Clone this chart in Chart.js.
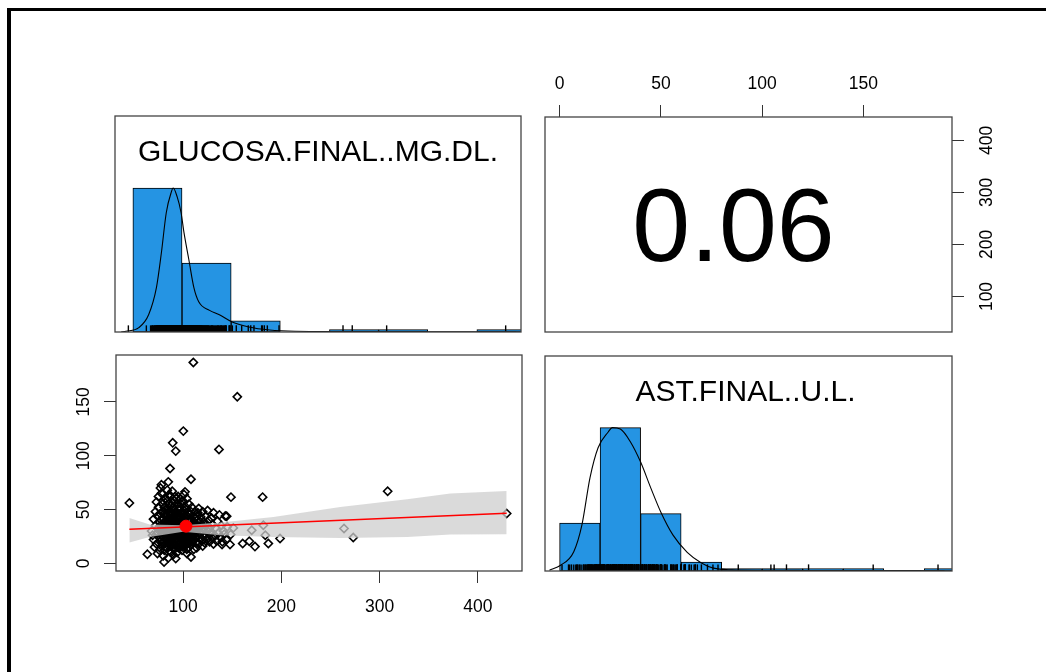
<!DOCTYPE html>
<html>
<head>
<meta charset="utf-8">
<script src="https://cdn.jsdelivr.net/npm/chart.js@4.4.1/dist/chart.umd.min.js"></script>
<style>
  html, body { margin: 0; padding: 0; background: #fff; overflow: hidden; }
  #marco { position: absolute; left: 7px; top: 8px; width: 1200px; height: 800px;
           border-top: 3px solid #000; border-left: 4px solid #000; }
  canvas { position: absolute; left: 0; top: 0; }
</style>
</head>
<body>
<div id="marco"></div>
<canvas id="histGlucosa" width="1046" height="672"></canvas>
<canvas id="correlacion" width="1046" height="672"></canvas>
<canvas id="dispersion" width="1046" height="672"></canvas>
<canvas id="histAst" width="1046" height="672"></canvas>
<script>
// pares (glucosa, AST) de cada paciente
const glucosa = [
  68, 70, 70, 71, 72, 72, 69,
  73, 74, 74, 75, 75, 75, 76, 76, 76, 77, 77, 77, 74, 73,
  78, 78, 78, 79, 79, 79, 80, 80, 80, 81, 81, 81, 82, 82, 82, 78, 80, 82,
  83, 83, 83, 84, 84, 84, 85, 85, 85, 86, 86, 86, 87, 87, 87, 84, 85, 86, 87, 83,
  88, 88, 88, 89, 89, 89, 90, 90, 90, 91, 91, 91, 92, 92, 92, 88, 90, 91, 92, 89,
  93, 93, 93, 94, 94, 94, 95, 95, 95, 96, 96, 96, 97, 97, 97, 94, 95, 96, 97, 93,
  98, 98, 98, 99, 99, 99, 100, 100, 100, 101, 101, 101, 102, 102, 102, 98, 99, 100, 101, 102,
  103, 103, 103, 104, 104, 104, 105, 105, 105, 106, 106, 106, 107, 107, 107, 104, 105,
  108, 108, 108, 109, 109, 110, 110, 110, 111, 111, 111, 112, 112, 109, 112,
  113, 113, 114, 114, 115, 115, 116, 116, 117, 117, 114, 116,
  118, 118, 119, 119, 120, 120, 121, 121, 122, 122, 120,
  123, 123, 124, 124, 125, 125, 126, 126, 127, 127,
  128, 129, 130, 130, 131, 132, 133, 134, 135, 131,
  136, 137, 138, 139, 140, 141, 142, 143, 144, 145,
  76, 77, 78, 78, 79, 79, 80, 80, 80, 81, 81, 81, 82, 82, 83, 83, 83, 83, 84, 84,
  84, 85, 85, 85, 86, 86, 86, 86, 87, 87, 87, 87, 88, 88, 88, 88, 89, 89, 89, 89,
  90, 90, 90, 90, 91, 91, 91, 91, 92, 92, 92, 92, 93, 93, 93, 93, 94, 94, 94, 94,
  95, 95, 95, 95, 96, 96, 96, 96, 97, 97, 97, 97, 98, 98, 98, 99, 99, 99, 99, 100,
  100, 100, 100, 101, 101, 101, 102, 102, 102, 103, 103, 103, 104, 104, 104, 105, 105, 105, 106, 106,
  106, 107, 107, 108, 108, 108, 109, 109, 110, 110, 111, 111, 112, 113, 113, 114, 115, 116, 117, 118,
  45.4, 110.5, 155.2, 100.3, 89.5, 92.6, 136.6, 86.8, 85, 108.1, 102, 148.8, 181, 308.2, 429.3,
  263.8, 273.2, 198.7, 186.8, 173.2, 167.4, 160.7, 147.8, 139.7, 144.4, 181.7, 169.9, 183.7,
  151.2, 148.5, 63.7, 92.6, 108.1, 80.7, 103.8, 113.9
];
const ast = [
  30, 22, 41, 15, 35, 48, 26,
  18, 28, 44, 33, 52, 62, 12, 24, 38, 70, 20, 46, 9, 57,
  30, 65, 16, 42, 26, 55, 34, 20, 48, 12, 38, 29, 60, 22, 44, 73, 7, 31,
  27, 50, 15, 36, 22, 58, 31, 42, 18, 25, 47, 64, 33, 20, 11, 68, 5, 37, 53, 40,
  28, 45, 16, 35, 24, 56, 30, 41, 19, 26, 50, 13, 34, 22, 62, 38, 8, 44, 29, 67,
  27, 48, 17, 32, 21, 55, 36, 25, 43, 30, 14, 52, 24, 38, 60, 10, 29, 40, 33, 37,
  28, 46, 19, 34, 23, 57, 31, 40, 15, 26, 49, 64, 35, 21, 44, 37, 12, 27, 33, 53,
  29, 42, 18, 36, 24, 60, 31, 47, 14, 27, 39, 55, 22, 34, 45, 9, 25,
  30, 41, 17, 26, 52, 33, 21, 44, 28, 37, 13, 24, 48, 35, 31,
  29, 42, 20, 36, 26, 47, 32, 18, 39, 24, 30, 51,
  28, 43, 21, 35, 30, 48, 25, 38, 19, 33, 16,
  27, 44, 22, 36, 30, 49, 24, 40, 20, 33,
  28, 42, 23, 36, 47, 26, 33, 21, 39, 18,
  28, 45, 24, 35, 20, 30, 27, 44, 22, 34,
  30, 35, 40, 22, 33, 19, 27, 41, 58, 24, 46, 52, 36, 15, 32, 22, 45, 60, 29, 41,
  14, 36, 25, 50, 31, 20, 42, 56, 27, 38, 45, 62, 32, 22, 50, 10, 29, 41, 18, 46,
  35, 25, 52, 14, 31, 38, 21, 58, 27, 40, 17, 47, 32, 23, 43, 60, 27, 38, 15, 46,
  32, 20, 50, 62, 25, 35, 45, 19, 29, 42, 16, 50, 32, 24, 55, 28, 40, 17, 48, 34,
  22, 45, 58, 30, 20, 40, 27, 38, 16, 33, 24, 50, 28, 44, 18, 35, 21, 40, 31, 46,
  19, 28, 39, 24, 35, 48, 30, 20, 27, 38, 32, 22, 36, 24, 34, 44, 30, 38, 28, 35,
  56.1, 186.8, 154.8, 122.9, 112, 104.3, 105.9, 88.2, 75.7, 78.2, 66.4, 61.5, 61.5, 67, 46.3,
  32.3, 23.9, 23, 18.3, 15.5, 20.5, 18.3, 17.4, 17.4, 43.8, 35.4, 30.7, 26,
  32.9, 26.7, 8.4, 4.4, 5.9, 1.2, 13, 14.3
];

// histogramas
const cortesGlucosa = [50, 100, 150, 200, 250, 300, 350, 400, 450];
const conteosGlucosa = [351, 168, 27, 0, 2, 1, 0, 1];
const cortesAst = [0, 20, 40, 60, 80, 100, 120, 140, 160, 180, 200];
const conteosAst = [101, 302, 121, 19, 1, 3, 1, 1, 0, 1];

// densidades (escaladas a máximo 1)
const densGlucosaX = [38, 43, 56, 66, 74, 79, 84, 89, 91, 95, 99, 102, 107, 112, 117, 128, 138, 151, 168, 189, 215, 260, 300, 350, 400, 440];
const densGlucosaY = [0, 0.005, 0.03, 0.12, 0.31, 0.55, 0.83, 0.97, 1.0, 0.94, 0.83, 0.69, 0.5, 0.31, 0.21, 0.15, 0.12, 0.07, 0.035, 0.014, 0.005, 0.003, 0.002, 0.001, 0.001, 0];
const densAstX = [-5, 0.5, 7, 11, 15, 19, 24, 26, 30, 35, 40, 45, 50, 56, 63, 70, 76, 85, 100, 120, 150, 190];
const densAstY = [0.005, 0.04, 0.135, 0.32, 0.65, 0.86, 0.97, 1.0, 0.99, 0.9, 0.76, 0.58, 0.41, 0.25, 0.13, 0.056, 0.02, 0.008, 0.005, 0.004, 0.003, 0.002];

// recta de regresión y su banda de confianza
const rectaX = [45.4, 429.3];
const rectaY = [31.7, 46.6];
const bandaX = [45.4, 66, 100, 138, 192, 260, 328, 372, 429.3];
const bandaSup = [42.2, 36, 35.4, 37.9, 43.1, 52.4, 59.6, 64.9, 67.3];
const bandaInf = [19.3, 24.5, 29.2, 26, 24.5, 23.6, 24.5, 26.7, 27];
const mediaGlucosa = 103;
const mediaAst = 34.5;

const correlacion = 0.06;
const ticksGlucosa = [100, 200, 300, 400];
const ticksAst = [0, 50, 100, 150];

const limGlucosa = { min: 31.8, max: 444.9 };
const limAst = { min: -7.2, max: 193.7 };

const FUENTE = "'Liberation Sans', Arial, sans-serif";
Chart.defaults.font.family = FUENTE;
Chart.defaults.color = '#000';

const base = {
  responsive: false,
  animation: false,
  devicePixelRatio: 1,
  events: [],
  plugins: { legend: { display: false }, tooltip: { enabled: false } }
};

// recuadro de cada panel
const cajaPanel = {
  id: 'cajaPanel',
  afterDatasetsDraw(chart) {
    const a = chart.chartArea, ctx = chart.ctx;
    ctx.save();
    ctx.strokeStyle = '#444';
    ctx.lineWidth = 1.3;
    ctx.strokeRect(a.left, a.top, a.right - a.left, a.bottom - a.top);
    ctx.restore();
  }
};

// títulos, coeficiente y etiquetas verticales de los ejes
const textoPanel = {
  id: 'textoPanel',
  afterDraw(chart, args, opts) {
    const ctx = chart.ctx, a = chart.chartArea;
    ctx.save();
    ctx.fillStyle = '#000';
    ctx.textAlign = 'center';
    ctx.textBaseline = 'middle';
    if (opts.texto) {
      ctx.font = opts.size + 'px ' + FUENTE;
      ctx.fillText(opts.texto, (a.left + a.right) / 2 + (opts.dx || 0),
        a.top + (a.bottom - a.top) * opts.yFrac);
    }
    if (opts.girados) {
      const s = chart.scales.y;
      ctx.font = '17.5px ' + FUENTE;
      opts.girados.valores.forEach(v => {
        ctx.save();
        ctx.translate(opts.girados.x, s.getPixelForValue(v));
        ctx.rotate(-Math.PI / 2);
        ctx.fillText(String(v), 0, 0);
        ctx.restore();
      });
    }
    ctx.restore();
  }
};

function barrasHist(cortes, conteos) {
  const maximo = Math.max(...conteos);
  const barras = [];
  conteos.forEach((c, i) => {
    if (c > 0) barras.push({ x: (cortes[i] + cortes[i + 1]) / 2, y: c / maximo });
  });
  return barras;
}

function crearHistograma(id, cortes, conteos, densX, densY, valores, lim, padding, titulo, dx) {
  return new Chart(document.getElementById(id), {
    type: 'bar',
    data: {
      datasets: [
        {
          type: 'scatter',
          data: valores.map(v => ({ x: v, y: 0.0225 })),
          pointStyle: 'line', rotation: 90, pointRadius: 3.4,
          borderColor: '#000', borderWidth: 1.4, order: 0
        },
        {
          type: 'line',
          data: densX.map((x, i) => ({ x: x, y: densY[i] })),
          borderColor: '#000', borderWidth: 1.1, pointRadius: 0,
          cubicInterpolationMode: 'monotone', order: 1
        },
        {
          type: 'bar',
          data: barrasHist(cortes, conteos),
          backgroundColor: '#2594e3', borderColor: '#000', borderWidth: 1,
          borderSkipped: false, barPercentage: 1, categoryPercentage: 1,
          minBarLength: 2.5, order: 2
        }
      ]
    },
    options: Object.assign({}, base, {
      layout: { padding: padding },
      scales: {
        x: { type: 'linear', display: false, offset: false, min: lim.min, max: lim.max },
        y: { type: 'linear', display: false, min: 0, max: 1.5 }
      },
      plugins: Object.assign({}, base.plugins, {
        textoPanel: { texto: titulo, size: 30, yFrac: 0.171, dx: dx }
      })
    }),
    plugins: [cajaPanel, textoPanel]
  });
}

const marcas = { drawOnChartArea: false, drawTicks: true, tickLength: 12, color: '#333', lineWidth: 1 };

crearHistograma('histGlucosa', cortesGlucosa, conteosGlucosa, densGlucosaX, densGlucosaY,
  glucosa, limGlucosa, { left: 115, right: 525, top: 116, bottom: 340 }, 'GLUCOSA.FINAL..MG.DL.', 0);

crearHistograma('histAst', cortesAst, conteosAst, densAstX, densAstY,
  ast, limAst, { left: 545, right: 94, top: 356, bottom: 101 }, 'AST.FINAL..U.L.', -3);

// panel superior derecho: coeficiente de correlación
new Chart(document.getElementById('correlacion'), {
  type: 'scatter',
  data: { datasets: [] },
  options: Object.assign({}, base, {
    layout: { padding: { left: 545, right: 0, top: 0, bottom: 340 } },
    scales: {
      x: {
        type: 'linear', position: 'top', min: limAst.min, max: limAst.max,
        grid: marcas, border: { display: false },
        ticks: { font: { size: 17.5 }, padding: 10, color: '#000' },
        afterBuildTicks: s => { s.ticks = ticksAst.map(v => ({ value: v })); },
        afterFit: s => { s.height = 117; }
      },
      y: {
        type: 'linear', position: 'right', min: limGlucosa.min, max: limGlucosa.max,
        grid: marcas, border: { display: false },
        ticks: { display: false },
        afterBuildTicks: s => { s.ticks = ticksGlucosa.map(v => ({ value: v })); },
        afterFit: s => { s.width = 94; }
      }
    },
    plugins: Object.assign({}, base.plugins, {
      textoPanel: {
        texto: correlacion.toFixed(2), size: 104, yFrac: 0.535, dx: -15,
        girados: { valores: ticksGlucosa, x: 987 }
      }
    })
  }),
  plugins: [cajaPanel, textoPanel]
});

// panel inferior izquierdo: dispersión con recta lineal
new Chart(document.getElementById('dispersion'), {
  type: 'scatter',
  data: {
    datasets: [
      {
        data: [{ x: mediaGlucosa, y: mediaAst }],
        pointStyle: 'circle', pointRadius: 6,
        backgroundColor: '#ff0000', borderColor: '#ff0000', order: 1
      },
      {
        type: 'line',
        data: rectaX.map((x, i) => ({ x: x, y: rectaY[i] })),
        borderColor: '#ff0000', borderWidth: 1.5, pointRadius: 0, order: 2
      },
      {
        type: 'line',
        data: bandaX.map((x, i) => ({ x: x, y: bandaInf[i] })),
        borderWidth: 0, pointRadius: 0, fill: false, order: 3
      },
      {
        type: 'line',
        data: bandaX.map((x, i) => ({ x: x, y: bandaSup[i] })),
        borderWidth: 0, pointRadius: 0, fill: '-1',
        backgroundColor: 'rgba(205,205,205,0.75)', order: 3
      },
      {
        data: glucosa.map((g, i) => ({ x: g, y: ast[i] })),
        pointStyle: 'rectRot', pointRadius: 4.1, borderWidth: 1.6,
        borderColor: '#000', backgroundColor: 'rgba(0,0,0,0)', order: 4
      }
    ]
  },
  options: Object.assign({}, base, {
    layout: { padding: { left: 0, right: 524, top: 355, bottom: 0 } },
    scales: {
      x: {
        type: 'linear', position: 'bottom', min: limGlucosa.min, max: limGlucosa.max,
        grid: marcas, border: { display: false },
        ticks: { font: { size: 17.5 }, padding: 14, color: '#000' },
        afterBuildTicks: s => { s.ticks = ticksGlucosa.map(v => ({ value: v })); },
        afterFit: s => { s.height = 101; }
      },
      y: {
        type: 'linear', position: 'left', min: limAst.min, max: limAst.max,
        grid: marcas, border: { display: false },
        ticks: { display: false },
        afterBuildTicks: s => { s.ticks = ticksAst.map(v => ({ value: v })); },
        afterFit: s => { s.width = 116; }
      }
    },
    plugins: Object.assign({}, base.plugins, {
      textoPanel: { girados: { valores: ticksAst, x: 84 } }
    })
  }),
  plugins: [cajaPanel, textoPanel]
});
</script>
</body>
</html>
